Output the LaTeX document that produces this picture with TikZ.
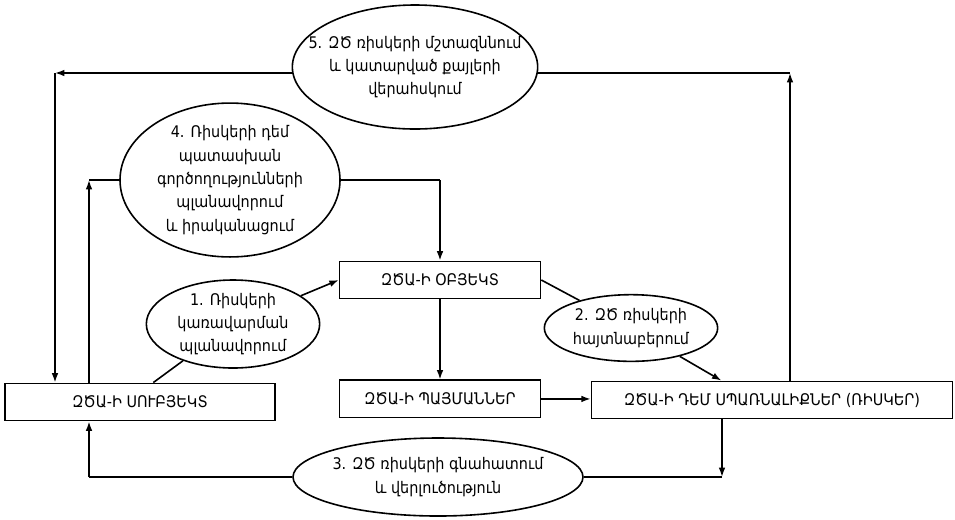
\documentclass[tikz,border=0pt]{standalone}
\usepackage{fontspec}
\setmainfont{DejaVu Sans}[FakeStretch=0.9]
\usepackage{tikz}
\usetikzlibrary{positioning, arrows.meta, shapes.geometric}

\begin{document}
\begin{tikzpicture}[
    x=0.75pt, y=-0.75pt,
    block/.style={rectangle, draw, line width=1.2pt, minimum height=28pt, inner sep=2pt, font=\fontsize{12}{15}\selectfont},
    stage/.style={ellipse, draw, line width=1.2pt, fill=white, inner sep=0pt, align=center, font=\fontsize{12}{17.5}\selectfont},
    arrow/.style={-{Latex[length=7pt, width=5pt]}, line width=1.2pt},
    link/.style={line width=1.2pt}
]
\useasboundingbox (0,0) rectangle (955,519);

% Boxes
\node[block, minimum width=202.5pt] (subj) at (140,402) {ԶԾԱ-Ի ՍՈՒԲՅԵԿՏ};
\node[block, minimum width=150.75pt] (obj) at (440,280) {ԶԾԱ-Ի ՕԲՅԵԿՏ};
\node[block, minimum width=150.75pt, below=60pt of obj] (cond) {ԶԾԱ-Ի ՊԱՅՄԱՆՆԵՐ};
\node[block, minimum width=270.75pt] (risks) at (772,400) {ԶԾԱ-Ի ԴԵՄ ՍՊԱՌՆԱԼԻՔՆԵՐ (ՌԻՍԿԵՐ)};

% Stages
\node[stage, minimum width=130pt, minimum height=66pt] (e1) at (233,324) {1. Ռիսկերի\\կառավարման\\պլանավորում};
\node[stage, minimum width=130pt, minimum height=50pt] (e2) at (631,328) {2. ԶԾ ռիսկերի\\հայտնաբերում};
\node[stage, minimum width=217.5pt, minimum height=58.5pt, inner xsep=-5pt] (e3) at (438,477) {3. ԶԾ ռիսկերի գնահատում\\և վերլուծություն};
\node[stage, minimum width=165pt, minimum height=113pt] (e4) at (230,180) {4. Ռիսկերի դեմ\\պատասխան\\գործողությունների\\պլանավորում\\և իրականացում};
\node[stage, minimum width=184pt, minimum height=93pt, inner xsep=-15pt] (e5) at (415,67) {5. ԶԾ ռիսկերի մշտազննում\\և կատարված քայլերի\\վերահսկում};

% Corners
\coordinate (tl) at (55,73);
\coordinate (tr) at (790,73);
\coordinate (ml) at (89,180);
\coordinate (mr) at (e4 -| obj.north);
\coordinate (bl) at (89,477);
\coordinate (br) at (722,477);

% Stage 1
\draw[link] ([xshift=10pt]subj.north) -- (e1);
\draw[arrow] (e1) -- (obj.west);

% Stage 2
\draw[link] (obj.east) -- (e2);
\draw[arrow] (e2) -- ([xshift=-38pt]risks.north);

% Object, conditions, risks
\draw[arrow] (obj) -- (cond);
\draw[arrow] (cond.east) -- (cond.east -| risks.west);

% Stage 3
\draw[arrow] (risks.south -| br) -- (br);
\draw[link] (br) -- (e3);
\draw[link] (e3) -- (bl);
\draw[arrow] (bl) -- (subj.south -| bl);

% Stage 4
\draw[arrow] (subj.north -| ml) -- (ml);
\draw[link] (ml) -- (e4);
\draw[link] (e4) -- (mr);
\draw[arrow] (mr) -- (obj.north);

% Stage 5
\draw[arrow] (risks.north -| tr) -- (tr);
\draw[link] (tr) -- (e5.east |- tr);
\draw[arrow] (e5.west |- tl) -- (tl);
\draw[arrow] (tl) -- (subj.north -| tl);

\end{tikzpicture}
\end{document}
